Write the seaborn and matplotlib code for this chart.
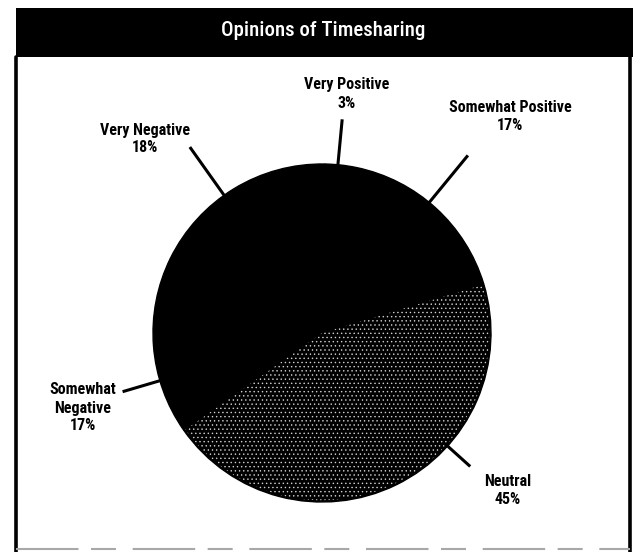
import numpy as np
import matplotlib
matplotlib.use("Agg")
import matplotlib.pyplot as plt
from matplotlib.patches import Wedge, Rectangle
from matplotlib.lines import Line2D
import seaborn as sns

# Survey shares, in counter-clockwise drawing order starting at the Neutral/Positive boundary
categories = ["Somewhat Positive", "Very Positive", "Very Negative", "Somewhat Negative", "Neutral"]
shares = [17, 3, 18, 17, 45]
label_text = ["Somewhat Positive", "Very Positive", "Very Negative", "Somewhat\nNegative", "Neutral"]

sns.set_theme(style="white")
plt.rcParams["font.family"] = ["Roboto Condensed", "Liberation Sans Narrow", "Roboto", "DejaVu Sans"]

W, H = 637, 552
fig = plt.figure(figsize=(W / 100, H / 100), dpi=100)
fig.patch.set_facecolor("white")

def fx(px):
    return px / W

def fy(py):
    return 1 - py / H

# Title banner and frame
fig.add_artist(Rectangle((fx(16), fy(57)), fx(633) - fx(16), fy(8) - fy(57),
                         transform=fig.transFigure, facecolor="black", edgecolor="none"))
fig.text(fx(323), fy(31), "Opinions of Timesharing", color="white", fontsize=15,
         ha="center", va="center", fontweight="medium")
fig.add_artist(Line2D([fx(16), fx(16)], [fy(57), fy(552)], transform=fig.transFigure,
                      color="black", lw=2.6))
fig.add_artist(Line2D([fx(630), fx(630)], [fy(57), fy(552)], transform=fig.transFigure,
                      color="black", lw=2.6))
fig.add_artist(Line2D([fx(16), fx(630)], [fy(549), fy(549)], transform=fig.transFigure,
                      color="#a8a8a8", lw=1.5, dashes=(30, 6, 12, 8)))

# Pie axes: centre (322, 333) px, radius 169 px
cx, cy, r = 322, 333, 169
ax = fig.add_axes([fx(cx - r), fy(cy + r), 2 * r / W, 2 * r / H])
colors = ["black"] * len(shares)
wedges, _ = ax.pie(shares, colors=colors, startangle=17, counterclock=True,
                   radius=1.0, wedgeprops=dict(linewidth=1.0, edgecolor="black"))
ax.set_xlim(-1, 1)
ax.set_ylim(-1, 1)
ax.set_aspect("equal")
ax.axis("off")

# Speckled screen on the Neutral wedge
nw = wedges[categories.index("Neutral")]
plt.rcParams["hatch.linewidth"] = 0.5
speckle = Wedge((0, 0), 0.99, nw.theta1 + 0.3, nw.theta2 - 0.3, facecolor="none",
                edgecolor="#d0d0d0", hatch="....", linewidth=0)
ax.add_patch(speckle)

# Leader lines: anchor angle offset from wedge middle, inner/outer radius
leader_offset = {"Somewhat Positive": 3, "Very Positive": 1, "Very Negative": 4,
                 "Somewhat Negative": 12, "Neutral": 22}
leader_outer = {"Somewhat Positive": 1.36, "Very Positive": 1.27, "Very Negative": 1.35,
                "Somewhat Negative": 1.23, "Neutral": 1.18}
for cat, w in zip(categories, wedges):
    mid = 0.5 * (w.theta1 + w.theta2) + leader_offset[cat]
    a = np.deg2rad(mid)
    ax.plot([0.98 * np.cos(a), leader_outer[cat] * np.cos(a)],
            [0.98 * np.sin(a), leader_outer[cat] * np.sin(a)],
            color="black", lw=2.2, clip_on=False, solid_capstyle="butt")

# Category labels with percentages
label_pos = {"Very Positive": (347, 94), "Somewhat Positive": (510, 116),
             "Very Negative": (145, 139), "Somewhat Negative": (83, 408),
             "Neutral": (508, 490)}
for cat, txt, val in zip(categories, label_text, shares):
    x, y = label_pos[cat]
    fig.text(fx(x), fy(y), f"{txt}\n{val}%", ha="center", va="center",
             fontsize=11.5, fontweight="black", color="black", linespacing=1.25)

fig.savefig("out.png", dpi=100, facecolor="white")
